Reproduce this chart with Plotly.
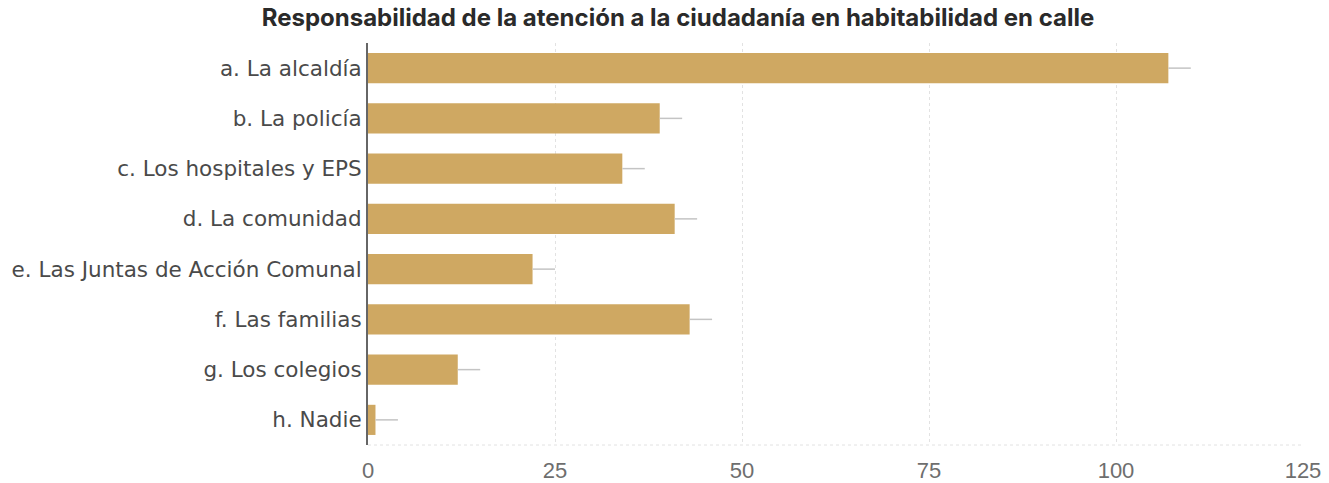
import plotly.graph_objects as go

categories = [
    "a. La alcaldía",
    "b. La policía",
    "c. Los hospitales y EPS",
    "d. La comunidad",
    "e. Las Juntas de Acción Comunal",
    "f. Las familias",
    "g. Los colegios",
    "h. Nadie",
]
values = [107, 39, 34, 41, 22, 43, 12, 1]
errors = [3, 3, 3, 3, 3, 3, 3, 3]
x_ticks = [0, 25, 50, 75, 100, 125]

W, H = 1329, 483

fig = go.Figure(
    go.Bar(
        y=categories,
        x=values,
        orientation="h",
        width=0.6,
        marker=dict(color="#cfa862", line=dict(width=0)),
        error_x=dict(type="data", array=errors, arrayminus=[0] * len(errors),
                     color="#c4c4c4", thickness=1.5, width=0),
    )
)

fig.update_layout(
    width=W,
    height=H,
    paper_bgcolor="white",
    plot_bgcolor="white",
    margin=dict(l=368, r=26, t=43, b=38, autoexpand=False),
    title=dict(
        text="<b>Responsabilidad de la atención a la ciudadanía en habitabilidad en calle</b>",
        x=678 / W,
        xanchor="center",
        xref="container",
        y=1 - 9 / H,
        yanchor="top",
        yref="container",
        automargin=False,
        font=dict(family="Inter", size=24, color="#2a2a2a"),
    ),
    xaxis=dict(
        range=[0, 125],
        tickvals=x_ticks,
        automargin=False,
        showgrid=True,
        gridcolor="#e2e2e2",
        griddash="dot",
        gridwidth=1,
        zeroline=False,
        showline=False,
        ticks="",
        ticklabelstandoff=10,
        tickfont=dict(family="Liberation Sans", size=22, color="#6e6e6e"),
    ),
    yaxis=dict(
        categoryorder="array",
        categoryarray=categories[::-1],
        autorange=False,
        automargin=False,
        range=[-0.5, 7.5],
        showline=True,
        linecolor="#666",
        linewidth=2,
        ticks="",
        ticklabelstandoff=0,
        tickfont=dict(family="DejaVu Sans", size=21.5, color="#4a4a4a"),
    ),
    showlegend=False,
)
fig.add_shape(type="line", xref="paper", yref="paper", x0=0, x1=1, y0=0, y1=0,
              line=dict(color="#e2e2e2", width=1, dash="dot"))

fig.write_html(
    "out.html",
    config={"displayModeBar": False},
    post_script="document.body.style.margin='0';document.body.style.overflow='hidden';",
)
